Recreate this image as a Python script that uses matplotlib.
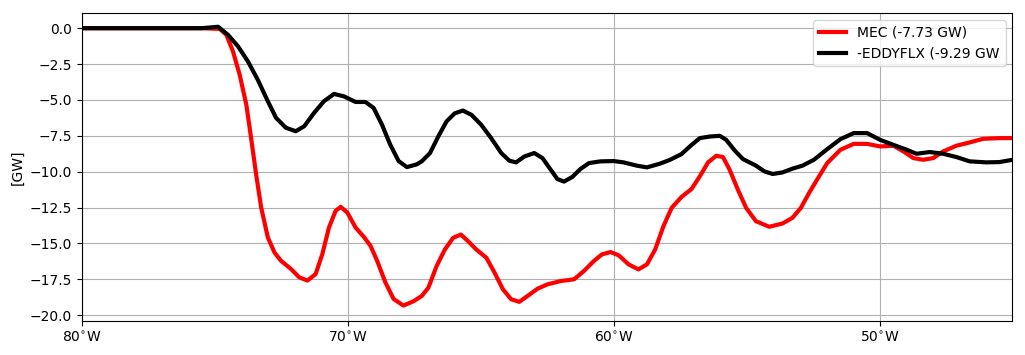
import matplotlib
matplotlib.use("Agg")
import matplotlib.pyplot as plt
import numpy as np

mec_lon = [-80.0, -76.0, -75.50, -74.82, -74.57, -74.32, -74.07, -73.82, -73.64, -73.45,
           -73.26, -73.01, -72.76, -72.52, -72.14, -71.83, -71.52, -71.21, -70.96, -70.71,
           -70.46, -70.27, -70.02, -69.71, -69.40, -69.15, -68.90, -68.59, -68.28, -67.91,
           -67.53, -67.22, -66.97, -66.66, -66.35, -66.04, -65.75, -65.48, -65.17, -64.79,
           -64.48, -64.17, -63.86, -63.55, -63.24, -62.86, -62.49, -61.99, -61.49, -61.12,
           -60.75, -60.44, -60.12, -59.81, -59.44, -59.07, -58.75, -58.44, -58.13, -57.82,
           -57.45, -57.07, -56.76, -56.45, -56.14, -55.89, -55.64, -55.33, -55.02, -54.65,
           -54.15, -53.65, -53.28, -52.96, -52.65, -52.30, -51.97, -51.47, -50.97, -50.47,
           -49.98, -49.48, -49.10, -48.73, -48.36, -47.98, -47.61, -47.11, -46.61, -46.11,
           -45.49, -45.00]
mec_val = [0.0, 0.0, 0.0, -0.05, -0.46, -1.62, -3.24, -5.32, -7.64, -10.19,
           -12.50, -14.58, -15.63, -16.20, -16.78, -17.36, -17.59, -17.13, -15.74, -13.89,
           -12.73, -12.45, -12.85, -13.89, -14.54, -15.16, -16.20, -17.71, -18.87, -19.33,
           -19.03, -18.66, -18.08, -16.57, -15.42, -14.61, -14.38, -14.84, -15.42, -16.00,
           -17.04, -18.19, -18.89, -19.07, -18.66, -18.15, -17.85, -17.62, -17.50, -16.92,
           -16.23, -15.76, -15.60, -15.83, -16.46, -16.81, -16.46, -15.42, -13.80, -12.52,
           -11.76, -11.20, -10.32, -9.35, -8.89, -8.98, -9.86, -11.25, -12.52, -13.45,
           -13.84, -13.61, -13.22, -12.52, -11.48, -10.40, -9.40, -8.47, -8.06, -8.06,
           -8.24, -8.19, -8.59, -9.05, -9.17, -9.05, -8.59, -8.19, -7.96, -7.71,
           -7.66, -7.66]

eddy_lon = [-80.0, -76.0, -75.50, -74.88, -74.51, -74.13, -73.76, -73.39, -73.01, -72.70,
            -72.33, -71.96, -71.64, -71.27, -70.90, -70.52, -70.15, -69.71, -69.34, -69.03,
            -68.72, -68.41, -68.09, -67.78, -67.41, -67.22, -66.91, -66.60, -66.29, -65.98,
            -65.67, -65.35, -64.98, -64.61, -64.23, -63.92, -63.67, -63.36, -62.99, -62.68,
            -62.37, -62.12, -61.87, -61.56, -61.25, -60.93, -60.50, -60.00, -59.63, -59.13,
            -58.75, -58.26, -57.88, -57.45, -57.07, -56.76, -56.39, -56.01, -55.77, -55.45,
            -55.14, -54.65, -54.33, -54.02, -53.65, -53.28, -52.90, -52.47, -51.97, -51.47,
            -50.97, -50.47, -49.98, -49.48, -48.98, -48.61, -48.11, -47.61, -47.11, -46.61,
            -45.99, -45.49, -45.00]
eddy_val = [0.0, 0.0, 0.0, 0.10, -0.46, -1.27, -2.31, -3.59, -5.09, -6.25,
            -6.94, -7.18, -6.83, -5.90, -5.09, -4.58, -4.75, -5.14, -5.14, -5.56,
            -6.71, -8.10, -9.26, -9.68, -9.49, -9.28, -8.70, -7.55, -6.50, -5.93,
            -5.74, -6.04, -6.74, -7.66, -8.70, -9.24, -9.35, -8.94, -8.70, -9.05,
            -9.86, -10.51, -10.69, -10.37, -9.81, -9.40, -9.28, -9.26, -9.35, -9.58,
            -9.70, -9.44, -9.17, -8.77, -8.13, -7.66, -7.55, -7.50, -7.78, -8.52,
            -9.12, -9.58, -9.98, -10.16, -10.05, -9.79, -9.58, -9.17, -8.43, -7.73,
            -7.31, -7.31, -7.78, -8.13, -8.47, -8.75, -8.63, -8.75, -8.98, -9.28,
            -9.35, -9.33, -9.17]

xticks = [-80, -70, -60, -50]
xticklabels = [r"80$^{\circ}$W", r"70$^{\circ}$W", r"60$^{\circ}$W", r"50$^{\circ}$W"]

fig = plt.figure(figsize=(10.25, 3.55), dpi=100)
ax = fig.add_axes([0.0800, 0.096, 0.9078, 0.867])
ax.plot(mec_lon, mec_val, color="red", lw=3, solid_joinstyle="round",
        label="MEC (-7.73 GW)")
ax.plot(eddy_lon, eddy_val, color="black", lw=3, solid_joinstyle="round",
        label="-EDDYFLX (-9.29 GW")
ax.set_xlim(-80, -45.0)
ax.set_ylim(-20.4, 1.05)
ax.set_xticks(xticks)
ax.set_xticklabels(xticklabels)
ax.set_yticks(np.arange(-20, 0.1, 2.5))
ax.set_ylabel("[GW]")
ax.grid(True)
ax.legend(loc="upper right")
fig.savefig("out.png", dpi=100)
